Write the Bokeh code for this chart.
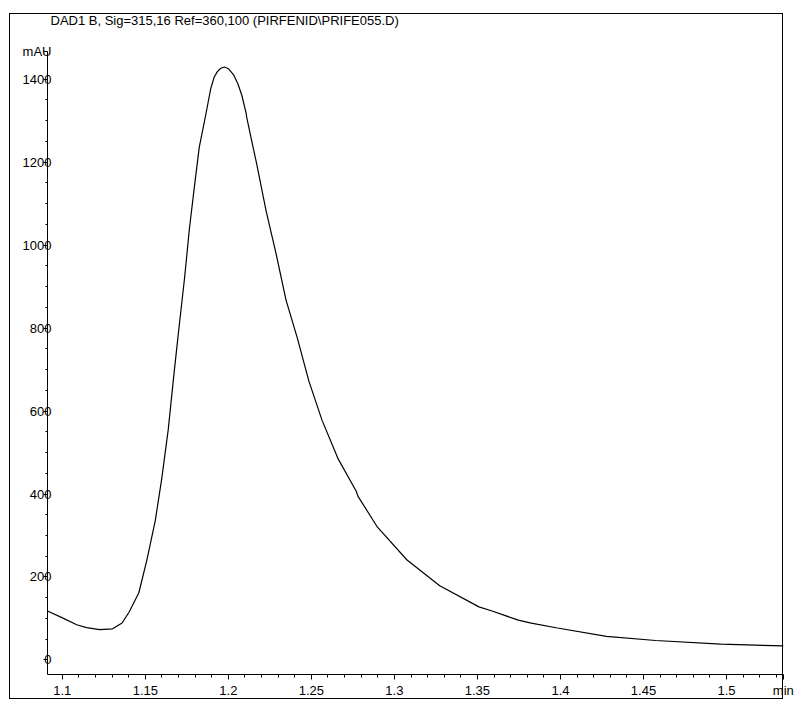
from bokeh.plotting import figure
from bokeh.models import Range1d, FixedTicker, Label, ColumnDataSource
from bokeh.embed import file_html
from bokeh.resources import INLINE

# ---- data ----
time_min = [1.0911, 1.0998, 1.1087, 1.1146, 1.1225, 1.1303, 1.1360, 1.1402, 1.1461,
            1.1510, 1.1560, 1.1599, 1.1638, 1.1668, 1.1697, 1.1737, 1.1766, 1.1796,
            1.1825, 1.1864, 1.1894, 1.1915, 1.1934, 1.1955, 1.1977, 1.2000, 1.2032,
            1.2058, 1.2081, 1.2107, 1.2111, 1.2140, 1.2170, 1.2227, 1.2288, 1.2347,
            1.2416, 1.2485, 1.2564, 1.2662, 1.2771, 1.2780, 1.2898, 1.3076, 1.3273,
            1.3509, 1.3588, 1.3746, 1.3824, 1.3982, 1.4277, 1.4573, 1.4966, 1.5343]
signal_mau = [118, 102, 85, 78, 73, 75, 89, 115, 162,
              242, 336, 437, 555, 672, 780, 923, 1041, 1142,
              1236, 1314, 1377, 1405, 1418, 1426, 1429, 1425, 1410,
              1388, 1361, 1318, 1307, 1252, 1197, 1083, 978, 868,
              775, 672, 578, 484, 406, 395, 320, 241, 179,
              128, 118, 96, 89, 77, 57, 47, 38, 34]

x_ticks = [1.1, 1.15, 1.2, 1.25, 1.3, 1.35, 1.4, 1.45, 1.5]
x_tick_labels = ["1.1", "1.15", "1.2", "1.25", "1.3", "1.35", "1.4", "1.45", "1.5"]
y_ticks = [0, 200, 400, 600, 800, 1000, 1200, 1400]
y_tick_labels = ["0", "200", "400", "600", "800", "1000", "1200", "1400"]

title_text = "DAD1 B, Sig=315,16 Ref=360,100 (PIRFENID\\PRIFE055.D)"
y_unit_text = "mAU"
x_unit_text = "min"

# ---- figure ----
X0, X1 = 1.0911, 1.5343
Y0, Y1 = -35, 1558
Y_UNIT_POS = 1466      # where the unit label sits on the y axis
X_UNIT_POS = 1.5342    # unit label at the right end of the x axis
FONT = "Liberation Sans"

W, H = 794, 700
p = figure(width=W, height=H, output_backend="svg", toolbar_location=None,
           x_range=Range1d(X0, X1), y_range=Range1d(Y0, Y1),
           min_border_left=47, min_border_right=11, min_border_top=13,
           min_border_bottom=23)
p.outline_line_color = None
p.xgrid.visible = False
p.ygrid.visible = False
p.background_fill_color = None
p.border_fill_color = None
# outer instrument-report frame drawn behind the (transparent) canvas
p.styles = {
    "background-color": "white",
    "background-image": ", ".join(["linear-gradient(#000, #000)"] * 4),
    "background-size": "774px 1px, 1px 686px, 774px 1px, 1px 686px",
    "background-position": "9px 13px, 9px 13px, 9px 698px, 782px 13px",
    "background-repeat": "no-repeat",
}

src = ColumnDataSource(dict(t=time_min, s=signal_mau))
p.line("t", "s", source=src, line_color="black", line_width=1.2)

# x axis
x_minor = [round(1.09 + 0.01 * i, 2) for i in range(45)]
x_minor = [m for m in x_minor if all(abs(m - t) > 1e-6 for t in x_ticks)]
xa = p.xaxis[0]
xa.ticker = FixedTicker(ticks=x_ticks + [X_UNIT_POS], minor_ticks=x_minor)
xa.major_label_overrides = dict(zip(x_ticks + [X_UNIT_POS], x_tick_labels + [x_unit_text]))
xa.axis_line_color = "black"
xa.major_tick_line_color = "black"
xa.minor_tick_line_color = "black"
xa.major_tick_in = 0
xa.major_tick_out = 5
xa.minor_tick_in = 0
xa.minor_tick_out = 3
xa.major_label_standoff = 3
xa.major_label_text_font = FONT
xa.major_label_text_font_size = "13px"
xa.major_label_text_color = "black"

# y axis
y_minor = [50 * i for i in range(0, 29) if (50 * i) % 200 != 0]
ya = p.yaxis[0]
ya.ticker = FixedTicker(ticks=y_ticks + [Y_UNIT_POS], minor_ticks=y_minor)
ya.major_label_overrides = dict(zip(y_ticks + [Y_UNIT_POS], y_tick_labels + [y_unit_text]))
ya.bounds = (Y0, Y_UNIT_POS)
ya.axis_line_color = "black"
ya.major_tick_line_color = "black"
ya.minor_tick_line_color = "black"
ya.major_tick_in = 0
ya.major_tick_out = 4
ya.minor_tick_in = 0
ya.minor_tick_out = 2
ya.major_label_standoff = -8
ya.major_label_text_font = FONT
ya.major_label_text_font_size = "13px"
ya.major_label_text_color = "black"

# report header inside the frame (screen units: from frame left / frame bottom)
p.add_layout(Label(x=3, y=654, x_units="screen", y_units="screen", text=title_text,
                   text_font=FONT, text_font_size="13px", text_color="black",
                   text_baseline="middle", text_align="left"))

open("out.html", "w").write(file_html(p, INLINE))
